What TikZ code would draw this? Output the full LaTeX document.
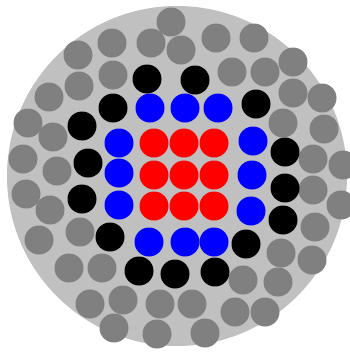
\documentclass[tikz,border=0pt]{standalone}
\usetikzlibrary{positioning}
\definecolor{jacket}{RGB}{192,192,192}
\definecolor{outerstrand}{RGB}{128,128,128}
\tikzset{
  strand/.style={circle, inner sep=0pt, minimum size=29pt, draw=none}, % one wire of the cable
  graystrand/.style={strand, fill=outerstrand},
  blackstrand/.style={strand, fill=black},
  bluestrand/.style={strand, fill=blue},
  redstrand/.style={strand, fill=red},
}

\begin{document}
\begin{tikzpicture}[x=1pt,y=-1pt]
    \useasboundingbox (0,0) rectangle (350,354);
    % cable jacket
    \node[circle, inner sep=0pt, minimum size=340pt, fill=jacket] (jacket) at (177,176) {};

    % outer layer
    \foreach \x/\y [count=\i] in {171/22, 112/43, 151/43, 181/50, 216/38, 254/38,
      78/55, 113/75, 79/86, 49/97, 232/72, 265/72, 293/62, 293/93, 322/98,
      283/123, 324/129, 313/159, 343/165, 313/190, 341/205, 315/227,
      281/253, 312/260, 243/280, 278/282, 192/304, 235/312, 265/312,
      205/333, 160/304, 157/334, 123/300, 114/328, 90/304, 69/268,
      102/268, 39/240, 80/232, 50/210, 26/194, 57/171, 23/159, 53/137,
      28/123}
      \node[graystrand] (g\i) at (\x,\y) {};

    % black layer
    \foreach \x/\y [count=\i] in {147/79, 195/80, 113/108, 256/104, 82/126,
      285/152, 88/163, 285/188, 82/199, 283/220, 110/237, 246/244,
      139/271, 175/274, 215/272}
      \node[blackstrand] (k\i) at (\x,\y) {};

    % blue layer
    \foreach \x/\y [count=\i] in {150/108, 185/108, 218/108, 119/143, 119/173,
      119/205, 253/141, 252/175, 251/211, 149/242, 185/242, 214/242}
      \node[bluestrand] (b\i) at (\x,\y) {};

    % red core
    \foreach \x [count=\i] in {154,184,214}
      \foreach \y [count=\j] in {143,175,206}
        \node[redstrand] (r\i\j) at (\x,\y) {};
\end{tikzpicture}
\end{document}
